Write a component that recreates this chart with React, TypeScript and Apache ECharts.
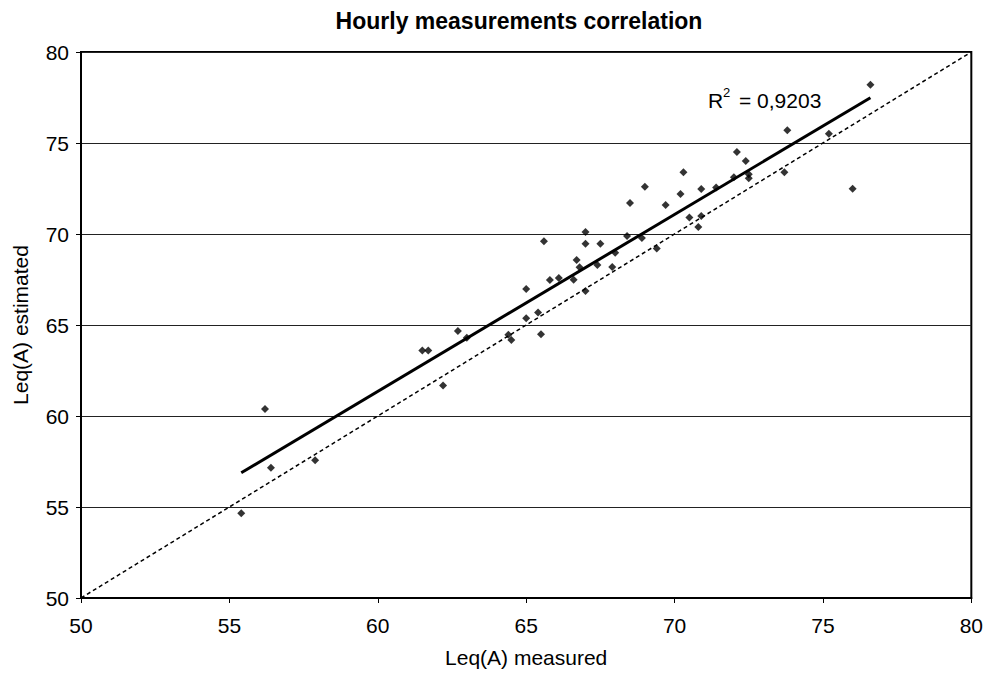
import React, { useEffect, useRef } from "react";
import * as echarts from "echarts";

const xMeasured = [
  55.4, 56.2, 56.4, 57.89, 61.5, 61.7, 62.2, 62.7, 63.0, 64.4, 64.5, 65.0, 65.0, 65.4, 65.5,
  65.6, 65.8, 66.1, 66.6, 66.7, 66.8, 67.0, 67.0, 67.0, 67.4, 67.5, 67.9, 68.0, 68.4, 68.5,
  68.9, 69.0, 69.4, 69.7, 70.2, 70.3, 70.5, 70.8, 70.9, 70.9, 71.4, 72.0, 72.1, 72.4, 72.5,
  72.5, 73.7, 73.8, 75.2, 76.0, 76.6,
];
const yEstimated = [
  54.65, 60.38, 57.16, 57.57, 63.6, 63.6, 61.67, 64.67, 64.3, 64.47, 64.18, 65.37, 66.98, 65.68, 64.49,
  69.6, 67.47, 67.58, 67.49, 68.57, 68.17, 70.11, 69.47, 66.87, 68.3, 69.47, 68.19, 68.97, 69.89, 71.7,
  69.78, 72.6, 69.21, 71.59, 72.2, 73.39, 70.9, 70.38, 72.47, 70.99, 72.56, 73.12, 74.51, 74.01, 73.28,
  73.06, 73.39, 75.7, 75.51, 72.49, 78.2,
];
const trendX = [55.4, 76.6];
const trendY = [56.88, 77.49];
const identityX = [50, 80];
const identityY = [50, 80];
const axisMin = 50;
const axisMax = 80;
const axisStep = 5;
const titleText = "Hourly measurements correlation";
const xName = "Leq(A) measured";
const yName = "Leq(A) estimated";
const r2Value = "0,9203";

const FONT = "'Liberation Sans', Arial, sans-serif";

export default function App() {
  const ref = useRef<HTMLDivElement>(null);
  useEffect(() => {
    if (!ref.current) return;
    const chart = echarts.init(ref.current, null, { renderer: "svg" });
    const points = xMeasured.map((x, i) => [x, yEstimated[i]]);
    const trend = trendX.map((x, i) => [x, trendY[i]]);
    const identity = identityX.map((x, i) => [x, identityY[i]]);
    chart.setOption({
      animation: false,
      backgroundColor: "#fff",
      textStyle: { fontFamily: FONT },
      grid: {
        left: 81,
        right: 14,
        top: 52,
        bottom: 75,
        show: true,
        borderColor: "#000",
        borderWidth: 2,
        backgroundColor: "#fff",
      },
      xAxis: {
        type: "value",
        min: axisMin,
        max: axisMax,
        interval: axisStep,
        name: xName,
        nameLocation: "middle",
        nameGap: 49,
        nameTextStyle: { fontFamily: FONT, fontSize: 21, color: "#000" },
        axisLine: { show: true, lineStyle: { color: "#000", width: 2 } },
        axisTick: { show: true, length: 5, lineStyle: { color: "#000", width: 1 } },
        axisLabel: { fontFamily: FONT, fontSize: 21, color: "#000", margin: 17 },
        splitLine: { show: false },
      },
      yAxis: {
        type: "value",
        min: axisMin,
        max: axisMax,
        interval: axisStep,
        name: yName,
        nameLocation: "middle",
        nameGap: 50,
        nameTextStyle: { fontFamily: FONT, fontSize: 21, color: "#000" },
        axisLine: { show: true, lineStyle: { color: "#000", width: 2 } },
        axisTick: { show: true, length: 5, lineStyle: { color: "#000", width: 1 } },
        axisLabel: { fontFamily: FONT, fontSize: 21, color: "#000", margin: 12 },
        splitLine: { show: true, lineStyle: { color: "#222", width: 1 } },
      },
      series: [
        {
          type: "line",
          data: identity,
          symbol: "none",
          lineStyle: { color: "#000", width: 1.5, type: [4, 3] },
          z: 2,
        },
        {
          type: "line",
          data: trend,
          symbol: "none",
          lineStyle: { color: "#000", width: 3 },
          z: 3,
        },
        {
          type: "scatter",
          data: points,
          symbol: "diamond",
          symbolSize: 8,
          itemStyle: { color: "#000" },
          z: 4,
        },
      ],
      graphic: [
        {
          type: "text",
          x: 519,
          y: 21,
          style: {
            text: titleText,
            fontFamily: FONT,
            fontSize: 23,
            fontWeight: "bold",
            fill: "#000",
            textAlign: "center",
            verticalAlign: "middle",
          },
        },
        {
          type: "group",
          left: 708,
          top: 86,
          children: [
            {
              type: "text",
              x: 0,
              y: 12,
              style: { text: "R", fontFamily: FONT, fontSize: 21, fill: "#000", verticalAlign: "middle" },
            },
            {
              type: "text",
              x: 15,
              y: 4,
              style: { text: "2", fontFamily: FONT, fontSize: 13, fill: "#000", verticalAlign: "middle" },
            },
            {
              type: "text",
              x: 31,
              y: 12,
              style: { text: "= " + r2Value, fontFamily: FONT, fontSize: 21, fill: "#000", verticalAlign: "middle" },
            },
          ],
        },
      ],
    });
    return () => chart.dispose();
  }, []);
  return (
    <div
      ref={ref}
      style={{ position: "fixed", left: 0, top: 0, width: 986, height: 673, background: "#fff" }}
    />
  );
}
